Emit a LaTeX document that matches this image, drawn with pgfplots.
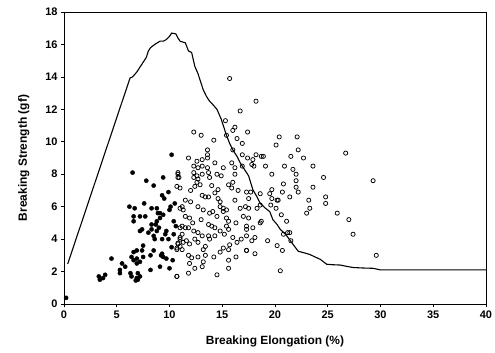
\documentclass[border=0pt]{standalone}
\usepackage{fontspec}
\setmainfont{Liberation Sans}
\usepackage{pgfplots}
\pgfplotsset{compat=1.18}
\begin{document}
\begin{tikzpicture}
\begin{axis}[
  at={(0,0)}, anchor=south west,
  scale only axis, width=422bp, height=292bp,
  xmin=0, xmax=40, ymin=0, ymax=18,
  xtick={0,5,...,40}, ytick={0,2,...,18},
  /pgf/number format/assume math mode=true,
  tick label style={font=\fontsize{11}{13}\selectfont\bfseries},
  label style={font=\fontsize{12}{14}\selectfont\bfseries},
  xlabel={Breaking Elongation (\%)},
  ylabel={Breaking Strength (gf)},
  xlabel style={at={(axis description cs:0.5,0)}, anchor=north, yshift=-28bp},
  ylabel style={at={(axis description cs:0,0.5)}, anchor=south, rotate=0, yshift=31bp},
  tick align=outside, xtick pos=bottom, ytick pos=left,
  major tick length=3bp,
  axis line style={line width=0.8pt},
  tick style={black, line width=0.7pt},
  clip=false,
]
% breaking curve
\addplot[black, line width=1.1pt, mark=none] coordinates {
(0.35,2.47) (6.26,13.93) (6.5,14.0) (6.9,14.3) (7.3,14.7) (7.8,15.2) (8.0,15.6) (8.2,15.8)
(8.6,16.0) (9.1,16.2) (9.4,16.2) (9.7,16.3) (10.0,16.5) (10.2,16.7) (10.6,16.65) (10.8,16.4)
(11.0,16.2) (11.5,16.1) (11.8,15.6) (12.1,15.5) (12.4,14.65) (12.7,14.2) (12.9,13.8) (13.2,13.2)
(13.5,12.8) (13.8,12.5) (14.1,12.3) (14.5,12.0) (14.9,11.4) (15.1,11.0) (15.4,10.4) (15.7,9.9)
(16.0,9.5) (16.4,9.1) (16.7,8.7) (17.1,8.3) (17.5,7.9) (17.9,7.05) (18.3,6.6) (18.6,6.2)
(19.1,5.9) (19.5,5.7) (19.8,5.2) (20.2,4.9) (20.5,4.6) (21.0,4.3) (21.4,3.95) (21.8,3.6)
(22.2,3.25) (22.8,3.15) (23.3,3.05) (23.8,2.9) (24.3,2.75) (24.9,2.45) (25.5,2.42) (26.2,2.4)
(26.8,2.32) (27.4,2.25) (28.3,2.22) (29.3,2.2) (30.0,2.1) (31.0,2.1) (40,2.1)
};
% filled dots
\addplot[only marks, mark=*, mark size=2.1pt, black] coordinates {
(0.2,0.38)
(6.5,8.1) (7.8,7.6) (8.5,7.3) (9.4,7.8) (9.3,6.7) (9.9,6.9) (10.2,9.2)
(6.2,6.0) (6.7,5.9) (7.6,6.2) (6.6,5.4) (6.6,5.1) (7.2,5.4) (7.7,5.4) (8.3,5.9)
(8.8,5.9) (9.1,5.6) (9.4,5.5) (10.0,5.8) (10.5,6.2) (9.1,5.3) (8.8,5.1) (8.3,4.9)
(7.4,4.6) (7.2,4.5) (8.3,4.6) (8.8,4.5) (9.7,4.5) (10.4,5.1) (10.6,4.8) (8.5,4.2)
(8.6,4.0) (9.6,4.3) (9.9,4.0) (10.4,4.3) (7.5,3.6) (7.4,3.3) (6.9,3.3) (6.6,3.2)
(8.5,3.3) (9.3,3.1) (9.4,2.9) (9.7,2.8) (10.2,3.5) (8.2,3.0) (4.5,2.8) (6.4,2.9)
(6.6,2.7) (6.9,2.8) (5.5,2.5) (5.3,2.1) (5.3,1.9) (5.8,2.3) (6.3,1.9) (6.4,1.7)
(7.0,1.9) (7.2,1.7) (6.9,1.6) (8.2,2.1) (9.1,2.3) (10.0,2.2) (3.3,1.7) (3.9,1.8)
(3.7,1.6) (3.4,1.5) (6.9,2.5) (7.2,2.6) (7.5,2.9) (9.3,4.0) (8.9,5.6) (9.0,4.7)
(8.0,4.4) (9.2,3.0) (10.1,6.0) (7.0,1.5) (6.8,1.45) (10.3,2.7) (8.7,4.9) (9.5,6.5)
};
% open circles
\addplot[only marks, mark=o, mark size=2.1pt, black, mark options={line width=0.75pt}] coordinates {
(15.7,13.9) (16.7,11.9) (15.3,11.3) (16.2,10.9) (16.0,10.7) (17.4,10.6) (12.3,10.6) (13.0,10.4)
(14.2,10.1) (15.4,10.4) (16.4,10.2) (16.9,9.9) (13.6,9.5) (13.6,9.2) (16.0,9.5) (16.9,9.2)
(11.8,9.0) (12.6,8.8) (13.1,8.9) (13.6,9.0) (12.3,8.5) (12.7,8.4) (13.1,8.5) (13.6,8.4)
(14.3,8.7) (15.1,8.4) (15.9,8.7) (16.2,8.4) (16.9,8.5) (10.8,8.1) (12.3,8.1) (12.6,7.9)
(13.1,8.0) (13.7,8.1) (14.5,8.0) (14.9,7.9) (16.2,8.0)
(18.2,12.5) (20.4,10.3) (22.1,10.3) (20.1,9.8) (22.2,9.5) (18.7,9.1) (18.9,9.1) (21.5,9.1)
(22.7,9.0) (17.8,8.6) (18.0,8.5) (19.1,8.5) (20.9,8.5) (21.7,8.3) (23.6,8.5) (19.7,8.0)
(22.0,8.0) (24.6,7.8)
(26.7,9.3) (29.3,7.6) (24.8,6.6) (24.8,6.2) (25.9,5.6) (27.0,5.2) (27.4,4.3) (29.6,3.0)
(23.6,7.2) (23.2,6.4) (23.3,5.9) (23.0,5.6) (20.8,7.4) (22.0,7.6) (22.0,7.2) (22.2,6.9)
(21.4,6.6) (20.7,6.9) (19.7,7.05) (19.5,6.8) (20.2,6.4) (20.3,6.4) (19.7,6.5) (19.6,6.1)
(20.1,5.9) (20.6,5.5) (21.1,5.1) (18.6,6.1) (18.3,5.9) (17.5,6.5) (17.5,5.9) (17.5,5.3)
(18.7,5.1) (18.6,5.0) (17.9,4.7) (17.3,4.8) (17.3,4.6) (18.1,4.1) (17.8,3.9) (17.3,4.2)
(17.3,3.3) (18.1,3.1) (19.3,3.9) (20.2,3.6) (20.7,3.3) (21.2,4.4) (21.4,4.4) (21.5,3.9)
(20.8,4.3) (20.5,2.05) (17.7,6.9) (18.6,6.8) (17.4,9.0) (17.9,8.9) (18.2,9.2)
(10.8,7.8) (10.7,7.25) (11.0,7.15) (12.3,7.8) (12.7,7.7) (12.6,7.5) (12.9,7.35) (12.4,7.25)
(13.8,7.8) (14.6,7.05) (14.3,6.85) (15.6,7.35) (15.9,7.15) (17.3,6.9) (11.5,6.4) (13.1,6.7)
(13.4,6.6) (13.7,6.6) (14.6,6.5) (14.8,6.3) (16.2,6.4) (11.0,5.9) (11.3,5.8) (12.7,6.0)
(13.2,5.8) (13.8,5.6) (14.1,5.7) (14.8,6.0) (15.1,5.9) (15.4,5.8) (15.1,5.7) (16.7,5.9)
(17.2,6.0) (11.5,5.4) (11.9,5.3) (15.4,5.3) (15.6,5.1) (15.4,4.8) (15.6,4.6) (17.0,5.4)
(13.7,4.9) (14.0,4.8) (14.3,4.7) (11.2,4.8) (11.5,4.7) (11.8,4.7) (12.3,4.5) (12.7,4.4)
(13.1,4.2) (13.7,4.2) (13.8,4.0) (14.3,4.2) (11.0,4.0) (11.3,3.8) (11.6,3.9) (11.9,3.7)
(10.8,3.7) (10.7,3.45) (11.2,3.35) (12.4,4.0) (12.7,3.8) (13.4,3.55) (13.2,3.35) (11.8,3.0)
(12.1,2.85) (12.7,2.9) (14.2,2.9) (13.2,2.6) (13.1,2.3) (11.9,2.5) (12.4,2.2) (11.8,1.9)
(10.7,1.7) (14.5,1.8) (15.6,2.7) (15.6,2.2) (15.1,3.45) (15.6,3.35) (16.0,4.1) (16.4,3.8)
(16.8,4.0) (17.3,3.3) (15.7,3.65) (14.8,4.5) (15.2,4.3)
(10.8,8.0) (10.9,7.8) (11.2,6.0) (11.0,4.7) (11.2,4.3) (11.0,4.1) (10.8,3.75) (11.0,3.55)
(10.7,3.35) (10.7,1.7) (12.0,6.3) (12.2,5.0) (13.0,5.2) (14.5,5.4) (16.3,5.0) (16.0,7.5)
(14.0,7.3) (12.0,7.0) (16.5,7.0) (13.4,3.0) (14.8,3.2) (16.3,2.9)
};
\draw[line width=0.5pt] (rel axis cs:0,1) -- (rel axis cs:1,1) -- (rel axis cs:1,0);
\end{axis}
\pgfresetboundingbox
\path (-64bp,-49bp) rectangle (431bp,304bp);
\end{tikzpicture}
\end{document}
